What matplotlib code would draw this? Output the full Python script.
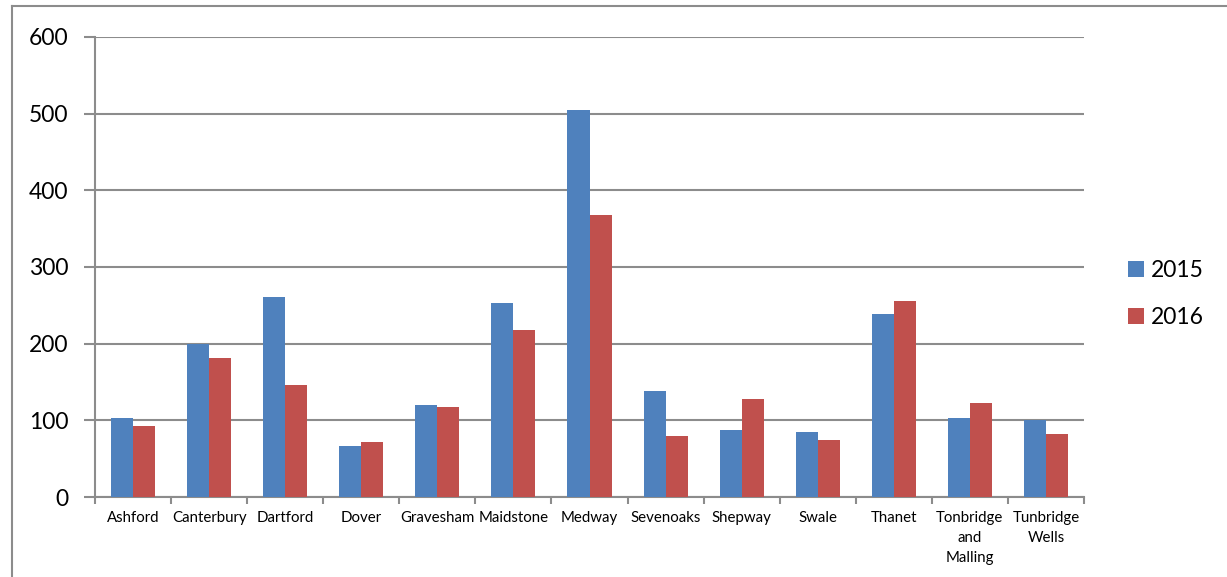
import numpy as np
import matplotlib.pyplot as plt
from matplotlib.lines import Line2D

# Data
districts = ['Ashford', 'Canterbury', 'Dartford', 'Dover', 'Gravesham', 'Maidstone',
             'Medway', 'Sevenoaks', 'Shepway', 'Swale', 'Thanet',
             'Tonbridge\nand\nMalling', 'Tunbridge\nWells']
values_2015 = [103, 200, 261, 67, 120, 253, 505, 138, 87, 85, 239, 103, 100]
values_2016 = [93, 181, 146, 72, 118, 218, 368, 79, 128, 75, 256, 122, 82]
y_ticks = [0, 100, 200, 300, 400, 500, 600]

plt.rcParams['font.family'] = ['Lato', 'DejaVu Sans']

grid_col = '#8c8c8c'
fig = plt.figure(figsize=(12.27, 5.77), dpi=100)
ax = fig.add_axes([95 / 1227, 1 - 497 / 577, (1084 - 95) / 1227, (497 - 37) / 577])

x = np.arange(len(districts))
w = 0.29
ax.bar(x - w / 2, values_2015, width=w, color='#4F81BD', label='2015', zorder=3)
ax.bar(x + w / 2, values_2016, width=w, color='#C0504D', label='2016', zorder=3)

ax.set_xlim(-0.5, len(districts) - 0.5)
ax.set_ylim(0, 600)
ax.set_yticks(y_ticks)
ax.set_yticklabels([str(v) for v in y_ticks], fontsize=16.5)
ax.yaxis.grid(True, color=grid_col, linewidth=1.5, zorder=0)
ax.tick_params(axis='y', length=8, width=1.5, color=grid_col, pad=11)

ax.set_xticks(x)
ax.set_xticklabels(districts, fontsize=10.8, linespacing=1.55)
ax.tick_params(axis='x', which='major', length=0, pad=10)
ax.set_xticks(np.arange(-0.5, len(districts), 1), minor=True)
ax.tick_params(axis='x', which='minor', length=5, width=1.5, color=grid_col)

for side in ['top', 'right']:
    ax.spines[side].set_visible(False)
for side in ['left', 'bottom']:
    ax.spines[side].set_color(grid_col)
    ax.spines[side].set_linewidth(1.5)

leg = fig.legend(loc='center left', bbox_to_anchor=(1107 / 1227, 1 - 294 / 577),
                 frameon=False, fontsize=16.5, handlelength=0.7, handleheight=0.7,
                 handletextpad=0.3, labelspacing=1.1)

# outer chart border
fig.add_artist(Line2D([12 / 1227, 12 / 1227], [0, 1 - 6 / 577], color=grid_col, lw=1.5))
fig.add_artist(Line2D([12 / 1227, 1], [1 - 6 / 577, 1 - 6 / 577], color=grid_col, lw=1.5))

fig.savefig('out.png', dpi=100)
